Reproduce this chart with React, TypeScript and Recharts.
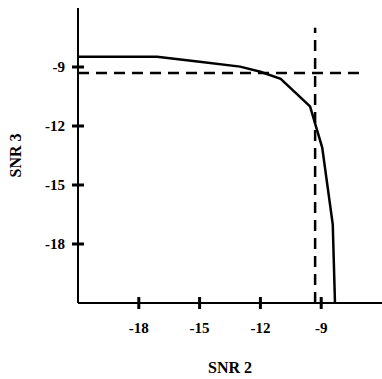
import React from 'react';
import { LineChart, Line, XAxis, YAxis, ReferenceLine, Label } from 'recharts';

// curve points
const snr2Values = [-21, -17.1, -15, -13, -12, -11, -9.55, -8.95, -8.43, -8.32];
const snr3Values = [-8.48, -8.48, -8.73, -8.98, -9.24, -9.6, -11.0, -13.1, -17.0, -21];

const xTicks = [-18, -15, -12, -9];
const yTicks = [-18, -15, -12, -9];

// dashed threshold lines
const thresholdSnr2 = -9.3;
const thresholdSnr3 = -9.3;
const dashedEnd = -7;

const FONT = '"Liberation Serif", "DejaVu Serif", serif';

const chartData = snr2Values.map((x, i) => ({ snr2: x, snr3: snr3Values[i] }));

// tick marks cross the axis line, so they are drawn by hand
const renderXTick = (props: any) => {
  const { x, y, payload } = props;
  return (
    <g key={`xt-${payload.value}`}>
      <rect x={x - 1.5} y={y - 6} width={3} height={12} fill="#000" />
      <text x={x} y={y + 30} textAnchor="middle" fontFamily={FONT} fontWeight="bold" fontSize={15} fill="#000">
        {payload.value}
      </text>
    </g>
  );
};

const renderYTick = (props: any) => {
  const { x, y, payload } = props;
  return (
    <g key={`yt-${payload.value}`}>
      <rect x={x - 6} y={y - 1.5} width={12} height={3} fill="#000" />
      <text x={x - 13} y={y + 5} textAnchor="end" fontFamily={FONT} fontWeight="bold" fontSize={15} fill="#000">
        {payload.value}
      </text>
    </g>
  );
};

export default function App() {
  return (
    <div style={{ position: 'absolute', left: 0, top: 0, background: '#fff' }}>
      <LineChart width={382} height={379} data={chartData} margin={{ top: 8, right: 0, bottom: 0, left: 0 }}>
        <XAxis
          dataKey="snr2"
          type="number"
          domain={[-21, -6]}
          ticks={xTicks}
          tick={renderXTick}
          tickLine={false}
          tickSize={0}
          tickMargin={0}
          height={76}
          axisLine={{ stroke: '#000', strokeWidth: 2 }}
          allowDataOverflow
        >
          <Label
            content={(p: any) => {
              const vb = p.viewBox;
              return (
                <text x={vb.x + vb.width / 2} y={373} textAnchor="middle" fontFamily={FONT} fontWeight="bold" fontSize={16} fill="#000">
                  SNR 2
                </text>
              );
            }}
          />
        </XAxis>
        <YAxis
          dataKey="snr3"
          type="number"
          domain={[-21, -6]}
          ticks={yTicks}
          tick={renderYTick}
          tickLine={false}
          tickSize={0}
          tickMargin={0}
          width={78}
          axisLine={{ stroke: '#000', strokeWidth: 2 }}
          allowDataOverflow
        >
          <Label
            content={(p: any) => {
              const vb = p.viewBox;
              const cy = vb.y + vb.height / 2;
              return (
                <text x={21} y={cy} transform={`rotate(-90 21 ${cy})`} textAnchor="middle" fontFamily={FONT} fontWeight="bold" fontSize={16} fill="#000">
                  SNR 3
                </text>
              );
            }}
          />
        </YAxis>
        <ReferenceLine
          segment={[{ x: -21, y: thresholdSnr3 }, { x: dashedEnd, y: thresholdSnr3 }]}
          stroke="#000"
          strokeWidth={2.5}
          strokeDasharray="11 7"
        />
        <ReferenceLine
          segment={[{ x: thresholdSnr2, y: -21 }, { x: thresholdSnr2, y: dashedEnd }]}
          stroke="#000"
          strokeWidth={2.5}
          strokeDasharray="11 7"
        />
        <Line
          type="linear"
          dataKey="snr3"
          stroke="#000"
          strokeWidth={2.5}
          dot={false}
          isAnimationActive={false}
        />
      </LineChart>
    </div>
  );
}
